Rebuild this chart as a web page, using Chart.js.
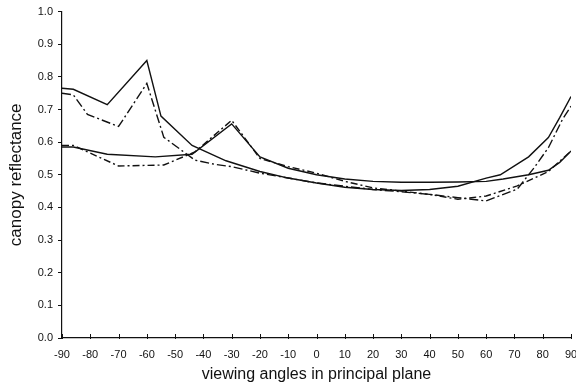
<!DOCTYPE html>
<html>
<head>
<meta charset="utf-8">
<script src="https://cdn.jsdelivr.net/npm/chart.js@4.4.1/dist/chart.umd.min.js"></script>
<style>
  html, body { margin: 0; padding: 0; background: #fff; }
  #wrap { width: 576px; height: 386px; }
</style>
</head>
<body>
<div id="wrap"><canvas id="myChart" width="576" height="386"></canvas></div>
<script>
// solid curve, hotspot at -60
var solidAX = [-90, -86, -74, -60, -55, -44, -32, -20, -10, 0, 10, 20, 30, 40, 50, 60, 65, 75, 82, 86, 90];
var solidAY = [0.765, 0.762, 0.715, 0.85, 0.68, 0.59, 0.543, 0.51, 0.49, 0.475, 0.462, 0.455, 0.452, 0.455, 0.465, 0.49, 0.5, 0.555, 0.614, 0.675, 0.74];

// dash-dot curve, hotspot at -60
var dashAX = [-90, -86, -81, -70, -60, -54, -43, -36, -30, -20, -10, 0, 10, 20, 30, 40, 50, 60, 71, 77, 82, 87, 90];
var dashAY = [0.75, 0.745, 0.685, 0.648, 0.78, 0.615, 0.545, 0.532, 0.525, 0.505, 0.49, 0.475, 0.465, 0.455, 0.448, 0.44, 0.43, 0.42, 0.456, 0.522, 0.583, 0.67, 0.71];

// solid curve, hotspot at -30
var solidBX = [-90, -86, -74, -57, -44, -30, -20, -10, 0, 10, 20, 30, 40, 50, 60, 66, 75, 82, 86, 90];
var solidBY = [0.585, 0.585, 0.563, 0.555, 0.563, 0.656, 0.555, 0.52, 0.5, 0.487, 0.48, 0.477, 0.477, 0.478, 0.48, 0.487, 0.5, 0.514, 0.538, 0.573];

// dash-dot curve, hotspot at -30
var dashBX = [-90, -86, -70, -54, -43, -30, -20, -10, 0, 10, 20, 30, 40, 50, 60, 71, 82, 90];
var dashBY = [0.59, 0.59, 0.527, 0.53, 0.57, 0.667, 0.55, 0.525, 0.505, 0.48, 0.46, 0.45, 0.44, 0.425, 0.435, 0.466, 0.51, 0.573];

var xTicks = [-90, -80, -70, -60, -50, -40, -30, -20, -10, 0, 10, 20, 30, 40, 50, 60, 70, 80, 90];
var yTicks = [0, 0.1, 0.2, 0.3, 0.4, 0.5, 0.6, 0.7, 0.8, 0.9, 1.0];

function pts(xs, ys) {
  return xs.map(function (x, i) { return { x: x, y: ys[i] }; });
}

function line(xs, ys, dash) {
  return {
    data: pts(xs, ys),
    borderColor: '#111',
    borderWidth: 1.4,
    borderDash: dash,
    pointRadius: 0,
    tension: 0,
    fill: false
  };
}

// small upward ticks on the x axis
var xTickMarks = {
  id: 'xTickMarks',
  afterDraw: function (chart) {
    var c = chart.ctx, sx = chart.scales.x, y0 = sx.top;
    c.save();
    c.strokeStyle = '#111';
    c.lineWidth = 1;
    xTicks.forEach(function (v) {
      var px = Math.round(sx.getPixelForValue(v)) + 0.5;
      c.beginPath();
      c.moveTo(px, y0 - 4);
      c.lineTo(px, y0 + 1);
      c.stroke();
    });
    c.restore();
  }
};

var font = "'Liberation Sans', Arial, sans-serif";
var ctx = document.getElementById('myChart').getContext('2d');
var myChart = new Chart(ctx, {
  type: 'line',
  data: {
    datasets: [
      line(solidAX, solidAY, []),
      line(dashAX, dashAY, [9, 3, 2, 3]),
      line(solidBX, solidBY, []),
      line(dashBX, dashBY, [7, 3, 2, 3])
    ]
  },
  options: {
    responsive: false,
    animation: false,
    layout: { padding: { top: 10, right: 5, left: 0, bottom: 0 } },
    plugins: { legend: { display: false }, tooltip: { enabled: false } },
    scales: {
      x: {
        type: 'linear',
        min: -90,
        max: 90,
        afterBuildTicks: function (s) { s.ticks = xTicks.map(function (v) { return { value: v }; }); },
        afterFit: function (s) { s.height = 48; s.paddingRight = 0; s.paddingLeft = 0; },
        grid: { display: true, drawOnChartArea: false, drawTicks: false },
        border: { display: true, color: '#111', width: 1.2 },
        ticks: {
          padding: 10,
          maxRotation: 0,
          autoSkip: false,
          color: '#111',
          font: { family: font, size: 11 }
        },
        title: {
          display: true,
          text: 'viewing angles in principal plane',
          color: '#111',
          font: { family: font, size: 16 },
          padding: { top: 0, bottom: 2 }
        }
      },
      y: {
        type: 'linear',
        min: 0,
        max: 1,
        afterBuildTicks: function (s) { s.ticks = yTicks.map(function (v) { return { value: v }; }); },
        afterFit: function (s) { s.width = 62; },
        grid: { display: true, drawOnChartArea: false, drawTicks: true, tickLength: 4, color: '#111' },
        border: { display: true, color: '#111', width: 1.2 },
        ticks: {
          padding: 5,
          color: '#111',
          font: { family: font, size: 11 },
          callback: function (v) { return v.toFixed(1); }
        },
        title: {
          display: true,
          text: 'canopy reflectance',
          color: '#111',
          font: { family: font, size: 17 },
          padding: { top: 6, bottom: 0 }
        }
      }
    }
  },
  plugins: [xTickMarks]
});
</script>
</body>
</html>
